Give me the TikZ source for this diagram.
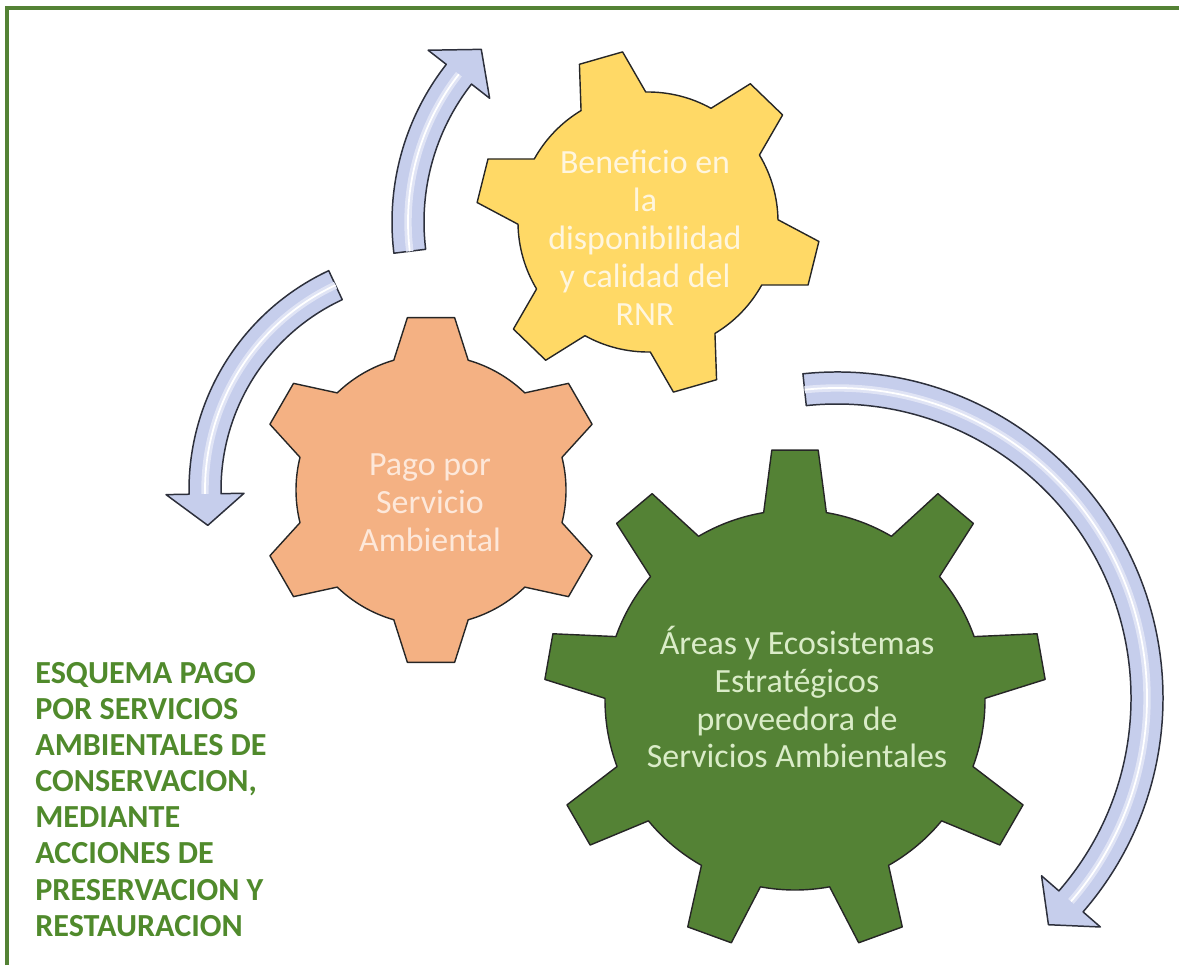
\documentclass[tikz,border=0pt]{standalone}
\usepackage{fontspec}
\setmainfont{Carlito}
\usepackage{tikz}
\usetikzlibrary{positioning}

\definecolor{framegreen}{RGB}{84,130,53}
\definecolor{titlegreen}{RGB}{80,138,44}
\definecolor{gearyellow}{RGB}{255,217,102}
\definecolor{gearorange}{RGB}{244,177,131}
\definecolor{geargreen}{RGB}{84,130,53}
\definecolor{arrowblue}{RGB}{198,206,236}
\definecolor{arrowline}{RGB}{45,48,60}
\definecolor{textyellow}{RGB}{255,246,222}
\definecolor{textorange}{RGB}{253,232,218}
\definecolor{textgreen}{RGB}{218,236,200}

\tikzset{
  gearline/.style={draw=black!85, line width=0.8pt, line join=round},
  arrowbody/.style={draw=arrowline, line width=0.85pt, fill=arrowblue, line join=round},
  arrowshine/.style={draw=white!45!arrowblue, line width=1.6pt, double=white, double distance=1pt},
  geartext/.style={align=center, inner sep=0pt, font=\fontsize{19.3}{21.6}\selectfont},
}

% gear: centre, teeth, first tooth angle, body radius, tip radius, base half angle, tip half angle, fill
\newcommand{\drawgear}[8]{%
  \begin{scope}[shift={(#1)}]
    \pgfmathsetmacro{\gstep}{360/#2}
    \filldraw[gearline, fill=#8] ({#3-#6}:#4)
      \foreach \k in {1,...,#2} {
        -- ({#3+(\k-1)*\gstep-#7}:#5) -- ({#3+(\k-1)*\gstep+#7}:#5)
        -- ({#3+(\k-1)*\gstep+#6}:#4)
        arc[start angle={#3+(\k-1)*\gstep+#6}, end angle={#3+\k*\gstep-#6}, radius=#4]
      } -- cycle;
  \end{scope}}

% curved block arrow: centre, radius, tail angle, head angle, tip angle
\newcommand{\roundarrow}[5]{%
  \begin{scope}[shift={(#1)}]
    \filldraw[arrowbody] ({#3}:{#2+16}) arc[start angle={#3}, end angle={#4}, radius={#2+16}]
      -- ({#4}:{#2+39}) -- ({#5}:{#2}) -- ({#4}:{#2-39}) -- ({#4}:{#2-16})
      arc[start angle={#4}, end angle={#3}, radius={#2-16}] -- cycle;
    \draw[arrowshine] ({#3}:{#2}) arc[start angle={#3}, end angle={#4}, radius={#2}];
  \end{scope}}

\begin{document}
\begin{tikzpicture}[x=0.02cm, y=0.02cm]
  \useasboundingbox (0,0) rectangle (1179,965);
  \draw[framegreen, line width=2.6pt] (7,0) -- (7,957) -- (1179,957);

  \coordinate (cbenef) at (648,743);
  \coordinate (cpago) at (431,475);
  \coordinate (careas) at (795,265);
  \coordinate (cloop) at (837,267);

  \drawgear{cbenef}{6}{106}{130}{172}{15}{7.5}{gearyellow}
  \drawgear{cpago}{6}{90}{135}{174}{16}{7.8}{gearorange}
  \drawgear{careas}{9}{90}{190}{251}{9.5}{5.3}{geargreen}

  \roundarrow{cbenef}{240}{187}{142}{134}
  \roundarrow{cpago}{226}{115}{181}{189}
  \roundarrow{cloop}{310}{96}{-41}{-47}

  \node[geartext, text=textyellow] (benef) at (645,727) {Beneficio en\\la\\disponibilidad\\y calidad del\\RNR};
  \node[geartext, text=textorange] (pago) at (430,462) {Pago por\\Servicio\\Ambiental};
  \node[geartext, text=textgreen] (areas) at (797,268) {Áreas y Ecosistemas\\Estratégicos\\proveedora de\\Servicios Ambientales};

  \node[align=left, anchor=north west, inner sep=0pt, text=titlegreen,
        font=\bfseries\fontsize{18.3}{20.55}\selectfont] (esquema) at (35,303)
    {ESQUEMA PAGO\\POR SERVICIOS\\AMBIENTALES DE\\CONSERVACION,\\MEDIANTE\\ACCIONES DE\\PRESERVACION Y\\RESTAURACION};
\end{tikzpicture}
\end{document}
